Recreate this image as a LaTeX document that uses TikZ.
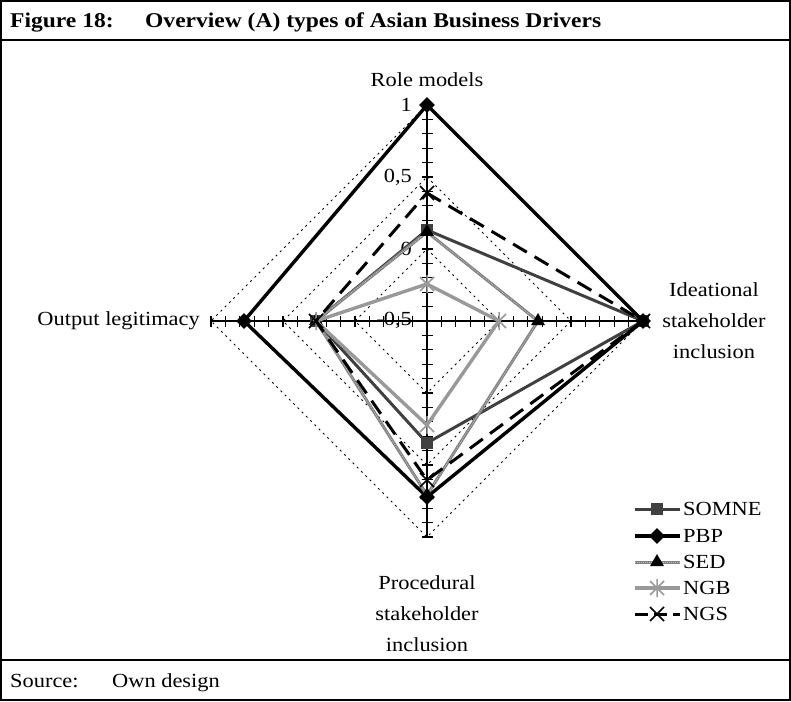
\documentclass[tikz,border=0pt]{standalone}
\usepackage{fontspec}
\setmainfont[FakeStretch=1.12]{Liberation Serif}
\usetikzlibrary{shapes.geometric}

\tikzset{
  ring/.style={line width=.9pt, dash pattern=on 2pt off 4pt},
  axisline/.style={line width=1.2pt},
  somne/.style={draw=black!75, line width=3pt},
  pbp/.style={draw=black, line width=3.4pt},
  sed/.style={draw=black!50, line width=3pt,
    postaction={draw=black!25, line width=.8pt, dash pattern=on 1pt off 1pt}},
  ngb/.style={draw=black!40, line width=3.4pt},
  ngs/.style={draw=black, line width=3pt, dash pattern=on 16pt off 9pt},
  mksq/.style={rectangle, fill=black!75, minimum size=12pt, inner sep=0pt},
  mkdia/.style={diamond, fill=black, minimum size=16pt, inner sep=0pt},
  mktri/.style={regular polygon, regular polygon sides=3, fill=black, minimum size=16pt, inner sep=0pt},
  lbl/.style={font=\fontsize{20}{31}\selectfont, inner sep=0pt},
  pics/mkstar/.style={code={
    \draw[black!40, line width=1.5pt] (-7,-7) -- (7,7) (-7,7) -- (7,-7) (0,-9) -- (0,9);}},
  pics/mkx/.style={code={
    \draw[black, line width=1.5pt] (-7,-7) -- (7,7) (-7,7) -- (7,-7);}},
}

\begin{document}
\begin{tikzpicture}[x=1pt, y=1pt]
\useasboundingbox (-427,321) rectangle (364,-380);

% frame
\draw[line width=2.8pt] (-426,320) rectangle (363,-379);
\draw[line width=2.8pt] (-426,281) -- (363,281);
\draw[line width=2.8pt] (-426,-339) -- (363,-339);

\node[lbl, anchor=base west] (fig) at (-417,293) {\fontsize{21}{25}\selectfont\bfseries Figure 18:};
\node[lbl, anchor=base west] (title) at (-282,293) {\fontsize{21}{25}\selectfont\bfseries Overview (A) types of Asian Business Drivers};
\node[lbl, anchor=base west] (src) at (-417,-366) {Source:};
\node[lbl, anchor=base west] (srctxt) at (-315,-366) {Own design};

% grid rings at 0 / 0,5 / 1
\foreach \r in {72,144,216}
  \draw[ring] (90:\r) -- (0:\r) -- (270:\r) -- (180:\r) -- cycle;

% axes with ticks
\foreach \ang in {0,90,180,270} {
  \begin{scope}[rotate=\ang]
    \draw[axisline] (0,0) -- (216,0);
    \foreach \i in {1,...,15}
      \draw[axisline] ({\i*14.4},-5.5) -- ({\i*14.4},5.5);
  \end{scope}
}

\node[lbl, anchor=east] (v1) at (-15,216) {1};
\node[lbl, anchor=east] (v05) at (-15,144) {0,5};
\node[lbl, anchor=east] (v0) at (-15,72) {0};
\node[lbl, anchor=east] (vm05) at (-15,1) {-0,5};

\node[lbl] (role) at (0,241) {Role models};
\node[lbl, align=center] (idea) at (287,0) {Ideational\\stakeholder\\inclusion};
\node[lbl, anchor=east] (output) at (-227,0) {Output legitimacy};
\node[lbl, align=center, anchor=north] (proc) at (0,-254) {Procedural\\stakeholder\\inclusion};

% series
\draw[somne] (90:91) -- (0:216) -- (270:122) -- (180:111) -- cycle;
\foreach \ang/\r in {90/91,0/216,270/122,180/111}
  \node[mksq] (somne-\ang) at (\ang:\r) {};

\draw[pbp] (90:216) -- (0:216) -- (270:176) -- (180:183) -- cycle;
\foreach \ang/\r in {90/216,0/216,270/176,180/183}
  \node[mkdia] (pbp-\ang) at (\ang:\r) {};

\draw[sed] (90:89) -- (0:111) -- (270:174) -- (180:111) -- cycle;
\foreach \ang/\r in {90/89,0/111,270/174,180/111}
  \node[mktri] (sed-\ang) at (\ang:\r) {};

\draw[ngb] (90:37) -- (0:72) -- (270:104) -- (180:111) -- cycle;
\foreach \ang/\r in {90/37,0/72,270/104,180/111}
  \pic at (\ang:\r) {mkstar};

\draw[ngs] (90:128) -- (0:216) -- (270:159) -- (180:111) -- cycle;
\foreach \ang/\r in {90/128,0/216,270/159,180/111}
  \pic at (\ang:\r) {mkx};

% legend
\foreach \s/\y/\t in {somne/-188/SOMNE, pbp/-215/PBP, sed/-241/SED, ngb/-267/NGB, ngs/-293/NGS} {
  \coordinate (\s-a) at (208,\y);
  \coordinate (\s-b) at (253,\y);
  \node[lbl, anchor=west] (\s-txt) at (256,\y) {\t};
}
\draw[somne] (somne-a) -- (somne-b);
\draw[pbp] (pbp-a) -- (pbp-b);
\draw[sed] (sed-a) -- (sed-b);
\draw[ngb] (ngb-a) -- (ngb-b);
\draw[ngs, dash pattern=on 13pt off 6pt] (ngs-a) -- (ngs-b);
\node[mksq] (somne-key) at (230,-188) {};
\node[mkdia] (pbp-key) at (230,-215) {};
\node[mktri] (sed-key) at (230,-241) {};
\pic at (230,-267) {mkstar};
\pic at (230,-293) {mkx};

\end{tikzpicture}
\end{document}
